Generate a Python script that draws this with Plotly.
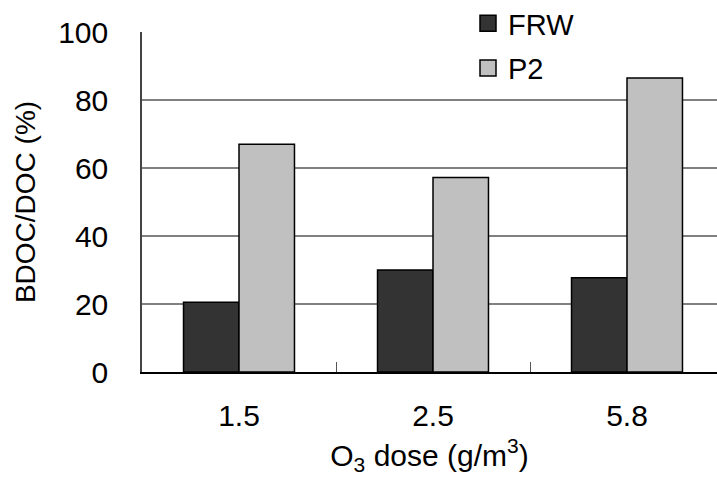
import plotly.graph_objects as go

categories = ["1.5", "2.5", "5.8"]
frw = [20.5, 30.0, 27.7]
p2 = [67.0, 57.2, 86.5]
y_ticks = [0, 20, 40, 60, 80, 100]
series_names = ["FRW", "P2"]
series_colors = ["#333333", "#c0c0c0"]

font = "Liberation Sans, Arial, Helvetica, sans-serif"

fig = go.Figure()
for name, vals, col in zip(series_names, [frw, p2], series_colors):
    fig.add_trace(go.Bar(name=name, x=categories, y=vals, showlegend=False,
                         marker=dict(color=col, line=dict(color="black", width=1.5))))
# legend entries with larger square swatches
for i, (name, col) in enumerate(zip(series_names, series_colors)):
    fig.add_trace(go.Scatter(name=name, x=[None], y=[None], mode="markers",
                             legendgroup=str(i),
                             marker=dict(symbol="square", size=18, color=col,
                                         line=dict(color="black", width=1.5))))

W, H = 717, 479
L, R, T, B = 142, 0, 32, 107
pw = W - L - R
ph = H - T - B

fig.update_layout(
    width=W, height=H,
    margin=dict(l=L, r=R, t=T, b=B, autoexpand=False),
    paper_bgcolor="white", plot_bgcolor="white",
    barmode="group", bargap=0.428, bargroupgap=0,
    font=dict(family=font, size=30, color="black"),
    legend=dict(x=(468 - L) / pw, y=1 + 34 / ph, xanchor="left", yanchor="top",
                bgcolor="white", font=dict(size=29), traceorder="grouped",
                tracegroupgap=4, itemwidth=30, itemsizing="trace"),
    xaxis=dict(type="category", range=[-0.5, 2.5 - 7 / 194],
               showline=True, linecolor="black", linewidth=1.5,
               ticks="inside", tickson="boundaries", ticklen=10, tickcolor="#555555",
               tickwidth=1, ticklabelstandoff=16,
               title=dict(text="O<sub>3</sub> dose (g/m<sup>3</sup>)", standoff=14,
                          font=dict(size=30))),
    yaxis=dict(range=[0, 100], tickvals=y_ticks, showline=True, linecolor="#444444",
               linewidth=1.5, showgrid=True, gridcolor="#808080", gridwidth=1.5,
               ticks="", ticklabelstandoff=26, zeroline=False,
               title=dict(text="BDOC/DOC (%)", standoff=14, font=dict(size=28))),
)

fig.write_html("out.html")
